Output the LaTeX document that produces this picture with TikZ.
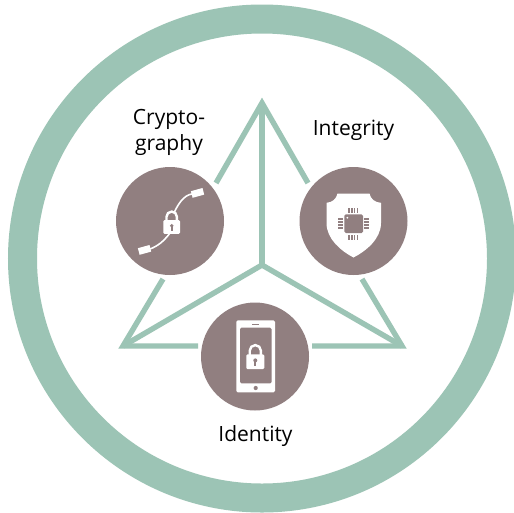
\documentclass[tikz,border=0pt]{standalone}
\usepackage{fontspec}
\setmainfont{Open Sans}
\definecolor{ringgreen}{HTML}{9CC4B5}
\definecolor{mauve}{HTML}{917F80}
\tikzset{
  hub/.style={circle,fill=mauve,minimum size=108pt,inner sep=0pt},
  frame/.style={draw=ringgreen,line width=5.4pt,line cap=butt,line join=miter},
  lbl/.style={font=\fontsize{21}{26}\selectfont,text=black,align=center,inner sep=0pt},
  icon/.style={fill=white,draw=none},
  iconline/.style={draw=white,fill=none}
}
\newcommand{\lockicon}[3]{%
  \begin{scope}[shift={(#1,#2)},scale=#3]
    \draw[iconline,line width=2.4pt] (-5.6,-3) -- (-5.6,-11) arc[start angle=180,end angle=0,x radius=5.6,y radius=-5.6] -- (5.6,-3);
    \fill[icon,rounded corners=1.2pt] (-9,-7.3) rectangle (9,7.3);
    \fill[mauve] (0,-1.3) circle (2);
    \fill[mauve] (-0.9,-1) rectangle (0.9,4);
  \end{scope}}
\begin{document}
\begin{tikzpicture}[x=1pt,y=-1pt]
\useasboundingbox (0,0) rectangle (514,512);
\fill[white] (0,0) rectangle (514,512);
\coordinate (c0) at (262,258.5);
\draw[ringgreen,line width=29pt] (c0) circle (239.5pt);
% triangle corners and centre
\coordinate (apex) at (262,103);
\coordinate (left) at (123,346);
\coordinate (right) at (402,346);
\coordinate (mid) at (262,265);
\coordinate (la) at (216,183);
\coordinate (lb) at (163,279);
\coordinate (ra) at (308,183);
\coordinate (rb) at (362,279);
\coordinate (ba) at (198,346);
\coordinate (bb) at (312,346);
\draw[frame] (la) -- (apex) -- (ra);
\draw[frame] (lb) -- (left) -- (ba);
\draw[frame] (rb) -- (right) -- (bb);
\draw[frame] (apex) -- (mid);
\draw[frame] (left) -- (mid) -- (right);
% hubs
\node[hub] (crypto) at (170,221) {};
\node[hub] (integ) at (353.5,221) {};
\node[hub] (ident) at (255,356.5) {};
% labels
\node[lbl] (tcrypto) at (169,132.5) {Crypto-\\graphy};
\node[lbl] (tinteg) at (353.5,130.5) {Integrity};
\node[lbl] (tident) at (255.5,436) {Identity};
% crypto icon
\draw[iconline,line width=1.6pt] (150,249) .. controls (158,246) and (164,241) .. (170,233);
\draw[iconline,line width=1.6pt] (174,213) .. controls (178,204) and (184,195) .. (192,194);
\fill[icon] (197,193) ++(-6.1,-1.8) -- ++(11.6,-3.2) -- ++(1.7,6.6) -- ++(-11.6,3.2) -- cycle;
\fill[icon] (144,250) ++(-6.1,-1.8) -- ++(11.6,-3.2) -- ++(1.7,6.6) -- ++(-11.6,3.2) -- cycle;
\lockicon{171.7}{227}{0.93}
% shield icon
\fill[icon] (337.5,193.5) -- (369.5,193.5)
  .. controls (370.5,199) and (375,202.5) .. (381,202.8)
  -- (381,223) .. controls (381,239) and (366,251) .. (353.5,257.5)
  .. controls (341,251) and (326.5,239) .. (326.5,223)
  -- (326.5,202.8) .. controls (332,202.5) and (336.5,199) .. (337.5,193.5) -- cycle;
\fill[mauve,rounded corners=1.5pt] (344.3,214.3) rectangle (363,233);
\fill[white] (347.3,217.7) circle (1);
\foreach \k in {0,1,2,3}{
  \fill[mauve] ({348.4+2.7*\k},208.3) rectangle ++(1.6,4.4);
  \fill[mauve] ({348.4+2.7*\k},235) rectangle ++(1.6,4.8);
  \fill[mauve] (337.7,{218.4+2.9*\k}) rectangle ++(5.3,1.7);
  \fill[mauve] (364,{218.4+2.9*\k}) rectangle ++(5.3,1.7);
}
% phone icon
\fill[icon,rounded corners=1.5pt] (236.3,320.3) rectangle (275,392.3);
\fill[mauve,rounded corners=1.5pt] (240,327.7) rectangle (271.7,383.3);
\fill[mauve] (252.3,323.8) rectangle (258.5,324.9);
\fill[mauve] (255.7,388) circle (2.1);
\lockicon{255.3}{361.7}{1}
\end{tikzpicture}
\end{document}
